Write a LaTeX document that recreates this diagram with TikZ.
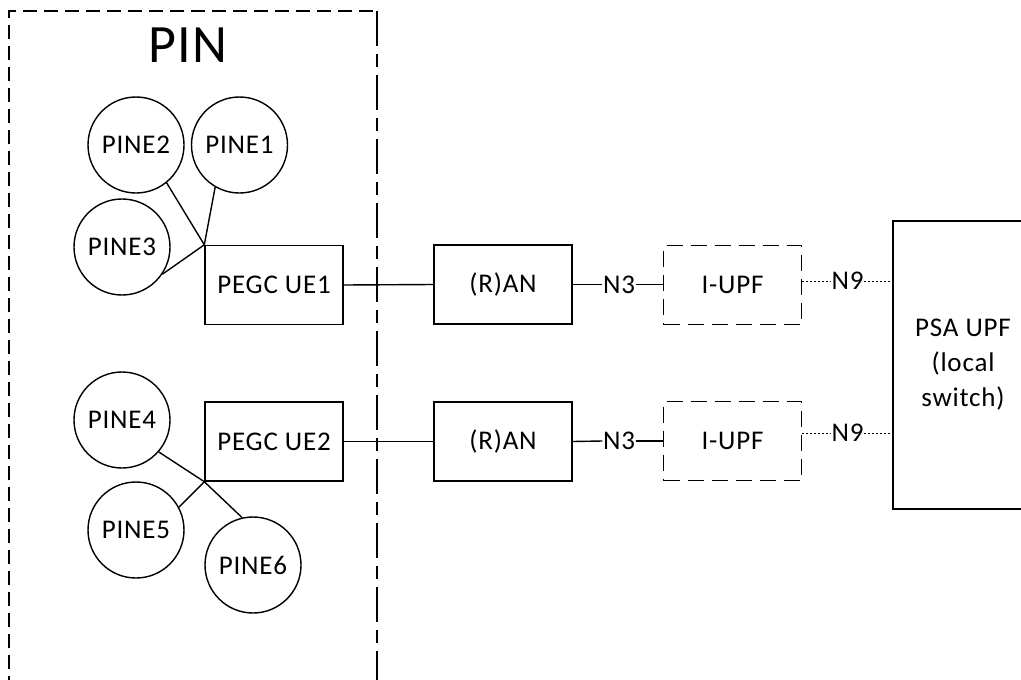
\documentclass[tikz,border=0pt]{standalone}
\usepackage{fontspec}
\setmainfont{Carlito}[LetterSpace=3]
\begin{document}
\begin{tikzpicture}[x=1pt,y=-1pt,line width=1.4pt,
  txt/.style={font=\fontsize{27}{35}\selectfont},
  pine/.style={circle,draw,minimum size=96pt,inner sep=0pt,txt},
  fbox/.style={rectangle,draw,minimum width=138pt,minimum height=79pt,inner sep=0pt,txt},
  dbox/.style={fbox,dash pattern=on 16pt off 8pt},
  lbl/.style={inner sep=0pt,txt},
  dotl/.style={dash pattern=on 2pt off 2pt,line width=1pt}]
\clip (0,0) rectangle (1021,680);
\fill[white] (0,0) rectangle (1021,680);
% PIN box
\draw[dash pattern=on 14pt off 7pt] (9,690) -- (9,11) -- (377,11);
\draw[dash pattern=on 35pt off 8pt on 13pt off 8pt] (377,11) -- (377,690);
\node[inner sep=0pt,font=\fontsize{54}{60}\selectfont] (pin) at (188,45) {PIN};
% top group
\node[pine] (p2) at (136,145) {PINE2};
\node[pine] (p1) at (239.5,145) {PINE1};
\node[pine] (p3) at (122,247) {PINE3};
\node[fbox] (ue1) at (274,285) {PEGC UE1};
\draw (p2.-51) -- (ue1.north west);
\draw (p1.-120) -- (ue1.north west);
\draw (p3.-34) -- (ue1.north west);
% bottom group
\node[pine] (p4) at (122,420) {PINE4};
\node[pine] (p5) at (136,530) {PINE5};
\node[pine] (p6) at (253,565) {PINE6};
\node[fbox] (ue2) at (274,441.5) {PEGC UE2};
\draw (p4.-41) -- (ue2.south west) -- (p6.103);
\draw (p5.28) -- (ue2.south west);
% RAN
\node[fbox] (ran1) at (503,284.5) {(R)AN};
\node[fbox] (ran2) at (503,441.5) {(R)AN};
\draw (ue1.east) -- (ran1.west);
\draw (ue2.east) -- (ran2.west);
% I-UPF
\node[dbox] (iu1) at (732.5,285) {I-UPF};
\node[dbox] (iu2) at (732.5,441) {I-UPF};
\node[lbl] (n3a) at (619,284.5) {N3};
\node[lbl] (n3b) at (619,441) {N3};
\draw (ran1.east) -- (n3a.west);
\draw (n3a.east) -- (n3a.east -| iu1.west);
\draw (ran2.east) -- (n3b.west);
\draw (n3b.east) -- (n3b.east -| iu2.west);
% PSA UPF
\node[fbox,minimum width=140pt,minimum height=288pt,align=center] (psa) at (963,365) {PSA UPF\\(local\\switch)};
\node[lbl] (n9a) at (847.5,281) {N9};
\node[lbl] (n9b) at (847.5,433) {N9};
\draw[dotl] (n9a.west -| iu1.east) -- (n9a.west);
\draw[dotl] (n9a.east) -- (n9a.east -| psa.west);
\draw[dotl] (n9b.west -| iu2.east) -- (n9b.west);
\draw[dotl] (n9b.east) -- (n9b.east -| psa.west);
\end{tikzpicture}
\end{document}
